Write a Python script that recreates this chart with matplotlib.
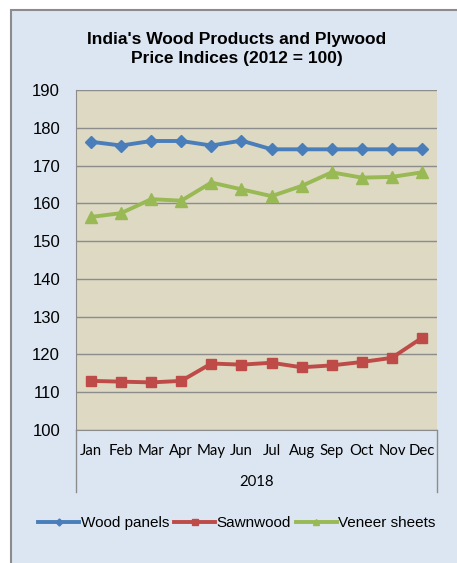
import matplotlib.pyplot as plt
from matplotlib.patches import Rectangle

months = ["Jan", "Feb", "Mar", "Apr", "May", "Jun", "Jul", "Aug", "Sep", "Oct", "Nov", "Dec"]
wood_panels = [176.3, 175.3, 176.5, 176.5, 175.3, 176.6, 174.3, 174.3, 174.3, 174.3, 174.3, 174.3]
sawnwood = [113.0, 112.8, 112.6, 113.0, 117.6, 117.3, 117.8, 116.6, 117.1, 118.0, 119.1, 124.4]
veneer_sheets = [156.4, 157.4, 161.1, 160.7, 165.5, 163.7, 161.9, 164.6, 168.2, 166.8, 167.0, 168.2]
year_label = "2018"
yticks = list(range(100, 191, 10))

W, H = 457, 563
fig = plt.figure(figsize=(W / 100, H / 100), dpi=100)
fig.patch.set_facecolor("white")

# outer chart frame (light blue with grey border)
frame = Rectangle((11 / W, -0.01), 1.02 - 11 / W, 1 - 10 / H + 0.01,
                  transform=fig.transFigure, facecolor="#dce6f2",
                  edgecolor="#8c8c8c", linewidth=1.5, zorder=-10)
fig.add_artist(frame)

ax = fig.add_axes([76 / W, 1 - 430 / H, 361 / W, 340 / H])
ax.set_facecolor("#ddd9c3")

x = [i + 0.5 for i in range(len(months))]
ax.plot(x, wood_panels, color="#4a7ebb", lw=2.8, marker="D", ms=6.5, label="Wood panels")
ax.plot(x, sawnwood, color="#be4b48", lw=2.8, marker="s", ms=7, label="Sawnwood")
ax.plot(x, veneer_sheets, color="#98b954", lw=2.8, marker="^", ms=8.5, label="Veneer sheets")

ax.set_xlim(0, 12)
ax.set_ylim(100, 190)
ax.set_yticks(yticks)
ax.yaxis.grid(True, color="#8c8c8c", lw=1)
ax.set_axisbelow(True)
ax.tick_params(axis="y", length=0, pad=11.5, labelsize=12)
for lab in ax.get_yticklabels():
    lab.set_fontfamily("Liberation Sans")
ax.set_xticks(x)
ax.set_xticklabels(months, fontfamily="Lato", fontsize=10.7)
ax.tick_params(axis="x", length=0, pad=10)

for s in ["top", "right"]:
    ax.spines[s].set_visible(False)
ax.spines["left"].set_color("#8c8c8c")
ax.spines["bottom"].set_color("#8c8c8c")

# multi-level category axis separators
for xv in (0, 12):
    ax.plot([xv, xv], [0, -62 / 340], transform=ax.get_xaxis_transform(),
            color="#8c8c8c", lw=1, clip_on=False)
ax.text(6, -52 / 340, year_label, transform=ax.get_xaxis_transform(),
        ha="center", va="center", fontsize=10.7, fontfamily="Lato")

fig.text(237 / W, 1 - 49 / H, "India's Wood Products and Plywood\nPrice Indices (2012 = 100)",
         ha="center", va="center", fontsize=12.5, fontweight="bold",
         fontfamily="Liberation Sans", linespacing=1.4)

fig.legend(loc="center", bbox_to_anchor=(237 / W, 1 - 523 / H), ncol=3, frameon=False,
           handlelength=2.7, handletextpad=0.1, columnspacing=0.3, markerscale=0.55,
           prop={"family": "Liberation Sans", "size": 11})

fig.savefig("out.png", dpi=100)
